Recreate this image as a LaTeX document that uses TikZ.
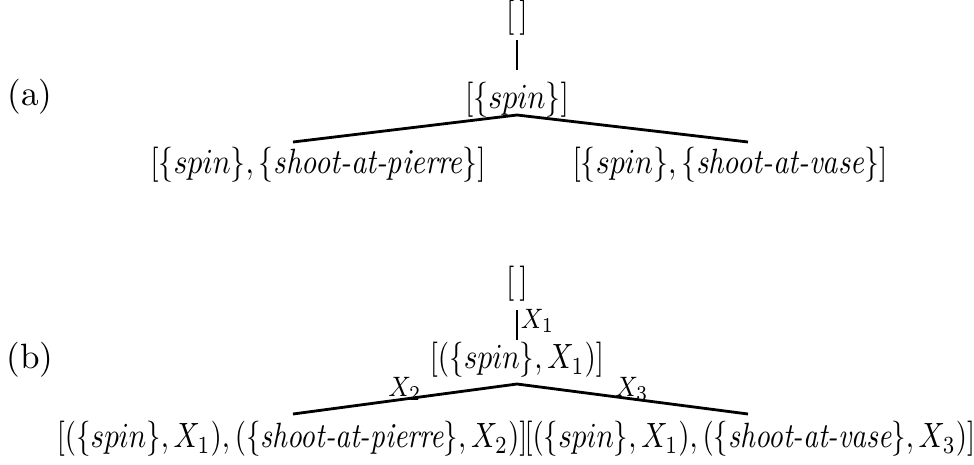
\documentclass[tikz,border=0pt]{standalone}
\usepackage{amsmath,amssymb}
\usepackage{tikz}
\usetikzlibrary{positioning,calc}

\begin{document}
\begin{tikzpicture}[
    branch/.style={line width=0.8pt, black},
    stem/.style={line width=0.6pt, black},
    term/.style={inner sep=0pt, xscale=0.85, transform shape},
    midterm/.style={inner sep=0pt, xscale=0.83, transform shape},
    longterm/.style={inner sep=0pt, xscale=0.825, transform shape},
    lbl/.style={font=\footnotesize, inner sep=1pt, xscale=0.85, transform shape}
  ]
    \useasboundingbox (0,0) rectangle (9.74,4.64);

    % (a) plain search tree
    \node (alab) at (0.30, 3.67) {(a)};
    \node[term] (a0) at (5.17, 4.46) {$[\,]$};
    \node[term] (a1) at (5.17, 3.64) {$[\{spin\}]$};
    \node[term] (a2) at (3.18, 2.99) {$[\{spin\},\{\textit{shoot-at-pierre}\}]$};
    \node[term] (a3) at (7.30, 2.99) {$[\{spin\},\{\textit{shoot-at-vase}\}]$};

    \coordinate (a0s) at (5.17, 4.24);
    \coordinate (a1n) at (5.17, 3.94);
    \coordinate (a1s) at (5.17, 3.49);
    \coordinate (a2n) at (2.93, 3.22);
    \coordinate (a3n) at (7.48, 3.22);

    \draw[stem] (a0s) -- (a1n);
    \draw[branch] (a2n) -- (a1s) -- (a3n);

    % (b) same tree, with the variables on the edges
    \node (blab) at (0.30, 1.04) {(b)};
    \node[term] (b0) at (5.17, 1.80) {$[\,]$};
    \node[midterm] (b1) at (5.17, 1.04) {$[(\{spin\},X_1)]$};
    \node[longterm, anchor=east] (b2) at (5.28, 0.25) {$[(\{spin\},X_1),(\{\textit{shoot-at-pierre}\},X_2)]$};
    \node[longterm, anchor=west] (b3) at (5.24, 0.25) {$[(\{spin\},X_1),(\{\textit{shoot-at-vase}\},X_3)]$};

    \coordinate (b0s) at (5.17, 1.54);
    \coordinate (b1n) at (5.17, 1.24);
    \coordinate (b1s) at (5.17, 0.80);
    \coordinate (b2n) at (2.93, 0.50);
    \coordinate (b3n) at (7.48, 0.50);

    \draw[stem] (b0s) -- (b1n) node[pos=0.35, right, lbl] {$X_1$};
    \draw[branch] (b2n) -- (b1s) -- (b3n);
    \node[lbl] (x2) at (4.05, 0.75) {$X_2$};
    \node[lbl] (x3) at (6.32, 0.75) {$X_3$};
\end{tikzpicture}
\end{document}
